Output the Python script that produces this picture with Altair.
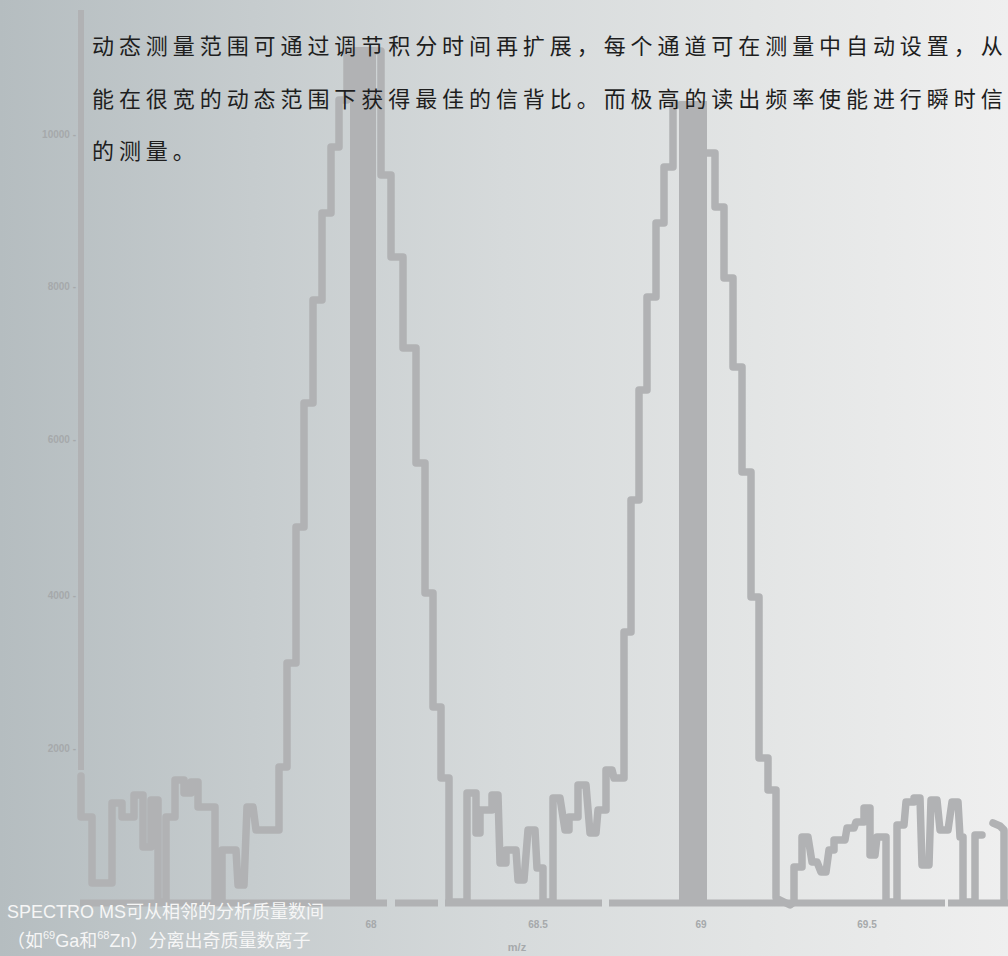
import altair as alt
import pandas as pd

# ---------------- data ----------------
# stepped spectrum trace: channel (x) and counts above baseline (y)
trace_ch = [81, 81, 92, 92, 112, 112, 122, 122, 134, 134, 143, 143, 151, 151, 158, 158, 166, 166,
            175, 175, 184, 184, 191, 191, 198, 198, 215, 215, 222, 222, 236, 238, 244, 247, 253, 256,
            279, 279, 287, 287, 296, 296, 304, 304, 313, 313, 322, 322, 331, 331, 339, 339, 347, 347,
            381, 381, 391, 391, 403, 403, 416, 416, 425, 425, 433, 433, 441, 441, 449, 449,
            467, 467, 476, 476, 480, 480, 492, 492, 498, 500, 506, 506, 516, 518, 524, 528, 535, 537,
            543, 543, 553, 553, 560, 565, 569, 569, 578, 578, 586, 590, 596, 598, 606, 606, 612, 614,
            624, 624, 631, 631, 639, 639, 647, 647, 656, 656, 664, 664, 673, 673, 703, 703, 715, 715,
            724, 724, 733, 733, 742, 742, 751, 751, 759, 759, 768, 768, 776, 776, 790, 794, 794, 802,
            802, 808, 812, 817, 821, 826, 829, 834, 834, 845, 847, 854, 856, 864, 864, 870, 870, 875,
            877, 886, 886, 897, 897, 904, 906, 914, 914, 920, 922, 929, 931, 937, 940, 948, 952, 958,
            960, 963, 963, 975, 975, 982]
trace_cnt = [126, 85, 85, 19, 19, 99, 99, 85, 85, 107, 107, 55, 55, 102, 102, 0, 0, 85,
             85, 122, 122, 109, 109, 120, 120, 95, 95, 0, 0, 52, 52, 17, 17, 95, 95, 72,
             72, 135, 135, 239, 239, 375, 375, 499, 499, 602, 602, 689, 689, 755, 755, 802, 802, 851,
             851, 727, 727, 645, 645, 554, 554, 439, 439, 309, 309, 195, 195, 124, 124, 0,
             0, 109, 109, 69, 69, 92, 92, 107, 107, 39, 39, 52, 52, 22, 22, 72, 72, 34,
             34, 0, 0, 104, 104, 72, 72, 85, 85, 117, 117, 69, 69, 92, 92, 132, 132, 124,
             124, 270, 270, 402, 402, 512, 512, 605, 605, 679, 679, 735, 735, 797, 797, 749, 749, 695,
             695, 624, 624, 535, 535, 430, 430, 305, 305, 144, 144, 112, 112, 4, -3, 0, 35, 35,
             65, 65, 40, 40, 30, 30, 52, 52, 62, 62, 74, 74, 80, 80, 94, 94, 47, 47,
             65, 65, 0, 0, 77, 77, 100, 100, 104, 104, 37, 37, 102, 102, 72, 72, 100, 100,
             65, 65, 0, 0, 67, 67]
tail_ch = [993, 1000, 1004, 1004]
tail_cnt = [79, 76, 72, 0]

# peak channels (dark columns)
peak_start = [350, 679]
peak_end = [376, 707]
peak_cnt = [855, 801]

# baseline pieces
base_start = [80, 395, 445, 609, 948]
base_end = [387, 438, 602, 945, 1008]

# y axis
axis_ch = [81]
axis_lo = [132]
axis_hi = [892]
ytick_cnt = [767, 615, 462, 306, 153]
ytick_labels = ["10000 -", "8000 -", "6000 -", "4000 -", "2000 -"]
xtick_ch = [371, 538, 701, 867]
xtick_labels = ["68", "68.5", "69", "69.5"]
xtitle = ["m/z"]

para_lines = [
    "动态测量范围可通过调节积分时间再扩展，每个通道可在测量中自动设置，从",
    "能在很宽的动态范围下获得最佳的信背比。而极高的读出频率使能进行瞬时信",
    "的测量。",
]
caption_line1 = "SPECTRO MS可从相邻的分析质量数间"
caption_line2_parts = ["（如", "69", "Ga和", "68", "Zn）分离出奇质量数离子"]
caption_line2_sup = [False, True, False, True, False]

# ---------------- build ----------------
W, H = 1008, 956
GRAY = "#b1b2b4"
CAP_FONT = "Liberation Sans, Noto Sans CJK SC"
CAP_SIZE, SUP_SIZE = 18, 11
xs = alt.Scale(domain=[0, 1008], nice=False, zero=False)
ys = alt.Scale(domain=[-54, 902], nice=False, zero=False)

def X(f="ch"):
    return alt.X(f"{f}:Q", scale=xs, axis=None)

def Y(f="cnt"):
    return alt.Y(f"{f}:Q", scale=ys, axis=None)

# approximate advance widths (em) for laying the caption pieces side by side
_em = {"G": 0.778, "a": 0.556, "Z": 0.611, "n": 0.556, "(": 0.333, ")": 0.333, " ": 0.278}

def text_w(s, size):
    w = 0.0
    for c in s:
        if ord(c) >= 0x2E80 or c in "（）":
            w += size
        else:
            w += _em.get(c, 0.556) * size
    return w

bg = alt.Chart(pd.DataFrame({"a": [0]})).mark_rect(
    color=alt.LinearGradient(
        gradient="linear",
        stops=[
            alt.GradientStop(color="#b5bdc0", offset=0),
            alt.GradientStop(color="#c6ccce", offset=0.25),
            alt.GradientStop(color="#d6dadb", offset=0.5),
            alt.GradientStop(color="#e3e5e5", offset=0.75),
            alt.GradientStop(color="#efefef", offset=1),
        ],
        x1=0, x2=1, y1=0, y2=0,
    )
).encode(x=alt.value(0), x2=alt.value(W), y=alt.value(0), y2=alt.value(H))

n1, n2 = len(trace_ch), len(tail_ch)
line_df = pd.DataFrame({
    "ch": trace_ch + tail_ch,
    "cnt": trace_cnt + tail_cnt,
    "seg": [0] * n1 + [1] * n2,
    "idx": list(range(n1 + n2)),
})
trace = alt.Chart(line_df).mark_line(
    color=GRAY, strokeWidth=7.5, strokeJoin="round", strokeCap="round"
).encode(x=X(), y=Y(), detail="seg:N", order="idx:Q")

peaks = alt.Chart(pd.DataFrame({"ch": peak_start, "ch2": peak_end, "cnt": peak_cnt})).mark_rect(
    color=GRAY
).encode(x=X(), x2="ch2:Q", y=Y(), y2=alt.datum(0))

base = alt.Chart(pd.DataFrame({"ch": base_start, "ch2": base_end, "cnt": [-1] * len(base_start)})).mark_rule(
    color=GRAY, strokeWidth=7
).encode(x=X(), x2="ch2:Q", y=Y())

axis = alt.Chart(pd.DataFrame({"ch": axis_ch, "cnt": axis_lo, "cnt2": axis_hi})).mark_rule(
    color=GRAY, strokeWidth=6
).encode(x=X(), y=Y(), y2="cnt2:Q")

ylab = alt.Chart(pd.DataFrame({"ch": [76] * len(ytick_cnt), "cnt": ytick_cnt, "t": ytick_labels})).mark_text(
    align="right", baseline="middle", font="Liberation Sans", fontSize=10, fontWeight="bold", color="#a6a9ab"
).encode(x=X(), y=Y(), text="t:N")

xlab = alt.Chart(pd.DataFrame({"ch": xtick_ch, "cnt": [-23] * len(xtick_ch), "t": xtick_labels})).mark_text(
    align="center", baseline="middle", font="Liberation Sans", fontSize=10, fontWeight="bold", color="#a6a9ab"
).encode(x=X(), y=Y(), text="t:N")

xttl = alt.Chart(pd.DataFrame({"ch": [517], "cnt": [-46], "t": xtitle})).mark_text(
    align="center", baseline="middle", font="Liberation Sans", fontSize=11, fontWeight="bold", color="#a6a9ab"
).encode(x=X(), y=Y(), text="t:N")

para = alt.Chart(pd.DataFrame({
    "ch": [92] * len(para_lines),
    "cnt": [855, 802, 750],
    "t": [" ".join(list(s)) for s in para_lines],
})).mark_text(
    align="left", baseline="middle", font="Noto Sans CJK SC", fontSize=22, color="#1e1e1e"
).encode(x=X(), y=Y(), text="t:N")

cap1 = alt.Chart(pd.DataFrame({"ch": [7], "cnt": [-11], "t": [caption_line1]})).mark_text(
    align="left", baseline="middle", font=CAP_FONT, fontSize=CAP_SIZE, color="#f6f6f6"
).encode(x=X(), y=Y(), text="t:N")

# caption line 2: normal pieces and raised superscript pieces placed one after another
rows_main, rows_sup = [], []
pos = 7.0
for part, sup in zip(caption_line2_parts, caption_line2_sup):
    if sup:
        rows_sup.append({"ch": pos, "cnt": -34, "t": part})
        pos += text_w(part, SUP_SIZE)
    else:
        rows_main.append({"ch": pos, "cnt": -40, "t": part})
        pos += text_w(part, CAP_SIZE)

cap2 = alt.Chart(pd.DataFrame(rows_main)).mark_text(
    align="left", baseline="middle", font=CAP_FONT, fontSize=CAP_SIZE, color="#f6f6f6"
).encode(x=X(), y=Y(), text="t:N")
cap2s = alt.Chart(pd.DataFrame(rows_sup)).mark_text(
    align="left", baseline="middle", font="Liberation Sans", fontSize=SUP_SIZE, color="#f6f6f6"
).encode(x=X(), y=Y(), text="t:N")

chart = alt.layer(bg, peaks, trace, base, axis, ylab, xlab, xttl, para, cap1, cap2, cap2s).properties(
    width=W, height=H, padding=0,
    autosize=alt.AutoSizeParams(type="none"),
    background="#b5bdc0",
).configure_view(strokeWidth=0)

chart.save("out.html", embed_options={"renderer": "svg", "actions": False})
